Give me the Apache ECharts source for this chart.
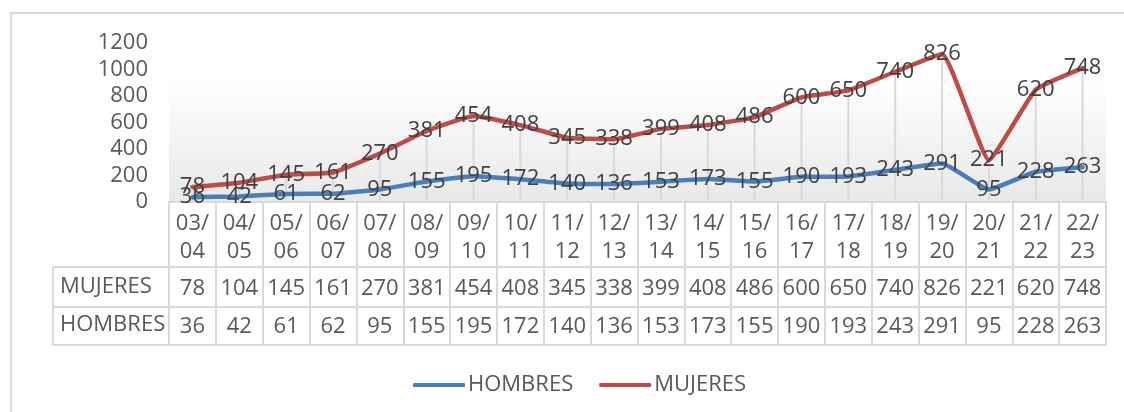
<!DOCTYPE html>
<html><head><meta charset="utf-8">
<script src="https://cdn.jsdelivr.net/npm/echarts@6/dist/echarts.min.js"></script>
<style>html,body{margin:0;padding:0;background:#fff}#c{width:1124px;height:412px}</style>
</head><body><div id="c"></div>
<script>
const categories = ['03/04','04/05','05/06','06/07','07/08','08/09','09/10','10/11','11/12','12/13','13/14','14/15','15/16','16/17','17/18','18/19','19/20','20/21','21/22','22/23'];
const hombres = [36,42,61,62,95,155,195,172,140,136,153,173,155,190,193,243,291,95,228,263];
const mujeres = [78,104,145,161,270,381,454,408,345,338,399,408,486,600,650,740,826,221,620,748];
const yTicks = [0,200,400,600,800,1000,1200];

const FONT = "'Open Sans', sans-serif";
const GRID = '#d9d9d9';
const TXT = '#595959';
const FS = 22;
const totals = hombres.map((h,i)=>h+mujeres[i]);

const chart = echarts.init(document.getElementById('c'));
const L = 169, R = 1106, B = 202;
function rowAxis(data, offset, tickLen, margin, showLabel){
  return {type:'category', gridIndex:0, position:'bottom', offset:offset, data:data,
    boundaryGap:true,
    axisLine:{show:true, lineStyle:{color:GRID, width:2}},
    axisTick:{show:tickLen>0, interval:0, length:tickLen, lineStyle:{color:GRID, width:2}},
    axisLabel:{show:showLabel, interval:0, margin:margin, color:TXT, fontSize:FS, fontFamily:FONT, lineHeight:22},
    splitLine:{show:false}};
}
const lbl = {show:true, position:[0,0], align:'center', verticalAlign:'middle', color:'#404040', fontSize:FS, fontFamily:FONT};
chart.setOption({
  animation:false,
  textStyle:{fontFamily:FONT},
  grid:{left:L, right:1124-R, top:43, bottom:412-B, show:true, borderWidth:0,
    backgroundColor:{type:'linear',x:0,y:0,x2:0,y2:1,colorStops:[{offset:0,color:'#ffffff'},{offset:0.22,color:'#ffffff'},{offset:1,color:'#e8e8e8'}]}},
  legend:{data:['HOMBRES','MUJERES'], top:369, left:408, itemWidth:52, itemHeight:4, itemGap:26,
    icon:'roundRect', textStyle:{color:TXT, fontSize:FS, fontFamily:FONT, padding:[0,0,0,-2]}},
  xAxis:[
    {type:'category', data:categories, boundaryGap:true,
      axisLine:{show:true, lineStyle:{color:GRID, width:2}},
      axisTick:{show:true, interval:0, length:65, lineStyle:{color:GRID, width:2}},
      axisLabel:{interval:0, margin:8, color:TXT, fontSize:FS, fontFamily:FONT, lineHeight:28,
        formatter:v=>v.replace('/','/\n')},
      splitLine:{show:false}},
    rowAxis(mujeres.map(String), 65, 40, 11, true),
    rowAxis(hombres.map(String), 105, 38, 9, true),
    rowAxis(categories, 143, 0, 0, false)
  ],
  yAxis:{type:'value', min:0, max:1200, interval:200,
    axisLine:{show:false}, axisTick:{show:false}, splitLine:{show:false},
    axisLabel:{color:TXT, fontSize:FS, fontFamily:FONT, margin:21,
      formatter:v=>yTicks.includes(v)?String(v):''}},
  series:[
    {name:'drop', type:'bar', data:totals, barWidth:2, silent:true, z:1,
      itemStyle:{color:'#d9d9d9'}, label:{show:false}},
    {name:'HOMBRES', type:'line', stack:'total', data:hombres, smooth:0.12, z:3,
      symbol:'circle', symbolSize:0, showSymbol:true,
      lineStyle:{color:'#4a7ebb', width:4.5, cap:'round'}, itemStyle:{color:'#4a7ebb'},
      label:lbl},
    {name:'MUJERES', type:'line', stack:'total', data:mujeres, smooth:0.12, z:4,
      symbol:'circle', symbolSize:0, showSymbol:true,
      lineStyle:{color:'#be4b48', width:4.5, cap:'round'}, itemStyle:{color:'#be4b48'},
      label:lbl}
  ],
  graphic:[
    {type:'rect', shape:{x:11, y:13, width:1200, height:500}, style:{fill:null, stroke:GRID, lineWidth:2}, z:-1, silent:true},
    {type:'line', shape:{x1:53, y1:267, x2:L, y2:267}, style:{stroke:GRID, lineWidth:2}},
    {type:'line', shape:{x1:53, y1:307, x2:L, y2:307}, style:{stroke:GRID, lineWidth:2}},
    {type:'line', shape:{x1:53, y1:345, x2:L, y2:345}, style:{stroke:GRID, lineWidth:2}},
    {type:'line', shape:{x1:53, y1:267, x2:53, y2:345}, style:{stroke:GRID, lineWidth:2}},
    {type:'line', shape:{x1:L, y1:267, x2:L, y2:345}, style:{stroke:GRID, lineWidth:2}},
    {type:'text', left:60, top:276, style:{text:'MUJERES', fill:TXT, font:"22px 'Open Sans', sans-serif"}},
    {type:'text', left:60, top:314, style:{text:'HOMBRES', fill:TXT, font:"22px 'Open Sans', sans-serif"}}
  ]
});
</script></body></html>
